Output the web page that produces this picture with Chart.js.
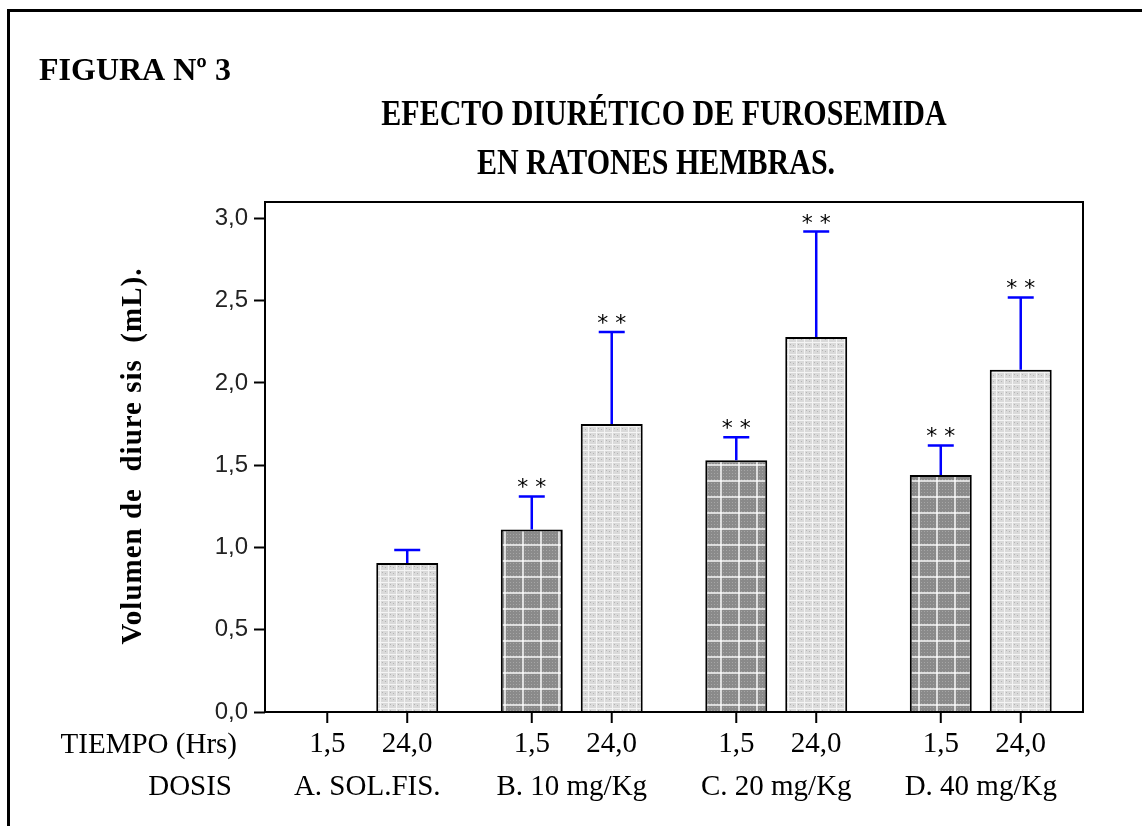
<!DOCTYPE html>
<html>
<head>
<meta charset="utf-8">
<script src="https://cdn.jsdelivr.net/npm/chart.js@4"></script>
<style>
  html, body { margin: 0; padding: 0; background: #fff; }
  #wrap { position: relative; width: 1142px; height: 826px; }
</style>
</head>
<body>
<div id="wrap"><canvas id="myChart"></canvas></div>
<script>
// datos
const dosis = ['A. SOL.FIS.', 'B. 10 mg/Kg', 'C. 20 mg/Kg', 'D. 40 mg/Kg']
const tiempos = ['1,5', '24,0']
const media15 = [null, 1.11, 1.53, 1.44]
const media24 = [0.905, 1.75, 2.28, 2.08]
const error15 = [null, 0.20, 0.14, 0.18]
const error24 = [0.08, 0.56, 0.64, 0.44]
const sig15 = ['', '**', '**', '**']
const sig24 = ['', '**', '**', '**']
const yTicks = [0, 0.5, 1.0, 1.5, 2.0, 2.5, 3.0]

const ctx = document.getElementById('myChart')

const serif = '"Liberation Serif", "Times New Roman", serif'
const sans = '"Liberation Sans", Arial, sans-serif'

// tramas de las barras
function trama(oscura) {
  const c = document.createElement('canvas')
  const g = c.getContext('2d')
  if (oscura) {
    c.width = 18; c.height = 16
    g.fillStyle = '#8a8a8a'
    g.fillRect(0, 0, 18, 16)
    g.fillStyle = '#a6a6a6'
    for (let x = 0; x < 18; x += 3) for (let y = 0; y < 16; y += 3) g.fillRect(x, y, 1, 1)
    g.fillStyle = 'rgba(255,255,255,0.7)'
    g.fillRect(0, 0, 2, 16)
    g.fillRect(0, 0, 18, 2)
  } else {
    c.width = 8; c.height = 6
    g.fillStyle = '#dadada'
    g.fillRect(0, 0, 8, 6)
    g.fillStyle = '#f4f4f4'
    g.fillRect(0, 0, 8, 1)
    g.fillRect(4, 0, 1, 6)
    g.fillStyle = '#b4b4b4'
    g.fillRect(1, 3, 1, 1)
    g.fillRect(6, 2, 1, 1)
  }
  return g.createPattern(c, 'repeat')
}

const textos = {
  id: 'textos',
  beforeDraw(chart) {
    const c = chart.ctx
    c.save()
    c.fillStyle = '#fff'
    c.fillRect(0, 0, chart.width, chart.height)
    // marco exterior
    c.strokeStyle = '#000'
    c.lineWidth = 3
    c.beginPath()
    c.moveTo(8.5, chart.height + 5)
    c.lineTo(8.5, 10.5)
    c.lineTo(chart.width + 5, 10.5)
    c.stroke()
    c.fillStyle = '#000'
    c.font = 'bold 32px ' + serif
    c.textAlign = 'left'
    c.textBaseline = 'alphabetic'
    c.fillText('FIGURA Nº 3', 39, 80)
    // titulo (letra alta y estrecha)
    c.save()
    c.scale(1, 1.2)
    c.font = 'bold 30px ' + serif
    c.textAlign = 'center'
    c.fillText('EFECTO DIURÉTICO DE FUROSEMIDA', 664, 125 / 1.2)
    c.fillText('EN RATONES HEMBRAS.', 656, 174 / 1.2)
    c.restore()
    // titulo eje y
    c.save()
    c.translate(141, 456)
    c.rotate(-Math.PI / 2)
    c.font = 'bold 29px ' + serif
    c.textAlign = 'center'
    c.letterSpacing = '1px'
    c.fillText('Volumen de  diure sis  (mL).', 0, 0)
    c.restore()
    c.restore()
  },
  afterDatasetsDraw(chart) {
    const c = chart.ctx
    const area = chart.chartArea
    const y = chart.scales.y
    const x = chart.scales.x
    const errores = [error15, error24]
    const sigs = [sig15, sig24]
    c.save()
    // barras de error
    chart.data.datasets.forEach((ds, di) => {
      const meta = chart.getDatasetMeta(di)
      meta.data.forEach((el, i) => {
        const v = ds.data[i]
        if (v == null) return
        const yTop = y.getPixelForValue(v + errores[di][i])
        c.strokeStyle = '#0000ff'
        c.lineWidth = 2.5
        c.beginPath()
        c.moveTo(el.x, el.y)
        c.lineTo(el.x, yTop)
        c.moveTo(el.x - 13, yTop)
        c.lineTo(el.x + 13, yTop)
        c.stroke()
        if (sigs[di][i]) {
          c.fillStyle = '#000'
          c.font = '22px "DejaVu Sans", sans-serif'
          c.textAlign = 'center'
          c.textBaseline = 'alphabetic'
          c.fillText(sigs[di][i].split('').join(' '), el.x, yTop - 2)
        }
      })
    })
    // marco del grafico
    c.strokeStyle = '#000'
    c.lineWidth = 2
    c.strokeRect(area.left, area.top, area.right - area.left, area.bottom - area.top)
    // marcas y etiquetas del eje x
    c.fillStyle = '#000'
    c.font = '29px ' + serif
    c.textAlign = 'center'
    c.textBaseline = 'alphabetic'
    chart.data.datasets.forEach((ds, di) => {
      chart.getDatasetMeta(di).data.forEach((el) => {
        c.beginPath()
        c.moveTo(el.x, area.bottom)
        c.lineTo(el.x, area.bottom + 11)
        c.stroke()
        c.fillText(ds.label, el.x, 752)
      })
    })
    dosis.forEach((d, i) => {
      c.fillText(d, x.getPixelForTick(i), 795)
    })
    c.textAlign = 'right'
    c.fillText('TIEMPO (Hrs)', 237, 753)
    c.fillText('DOSIS', 232, 795)
    c.restore()
  }
}

new Chart(ctx, {
  type: 'bar',
  data: {
    labels: dosis,
    datasets: [
      {
        label: tiempos[0],
        data: media15,
        backgroundColor: trama(true),
        borderColor: '#000',
        borderWidth: 2,
        categoryPercentage: 0.782,
        barPercentage: 0.775
      },
      {
        label: tiempos[1],
        data: media24,
        backgroundColor: trama(false),
        borderColor: '#000',
        borderWidth: 2,
        categoryPercentage: 0.782,
        barPercentage: 0.775
      }
    ]
  },
  options: {
    responsive: true,
    maintainAspectRatio: false,
    animation: false,
    layout: { padding: { top: 202, right: 59, left: 0, bottom: 0 } },
    plugins: {
      legend: { display: false },
      title: { display: false },
      tooltip: { enabled: false }
    },
    scales: {
      x: {
        grid: { display: false },
        border: { display: false },
        ticks: { display: false },
        afterFit: (s) => { s.height = 114 }
      },
      y: {
        min: 0,
        max: 3.1,
        afterBuildTicks: (s) => { s.ticks = yTicks.map(v => ({ value: v })) },
        afterFit: (s) => { s.width = 265 },
        grid: {
          drawOnChartArea: false,
          drawTicks: true,
          tickLength: 11,
          tickWidth: 2,
          tickColor: '#000'
        },
        border: { display: false },
        ticks: {
          padding: 6,
          color: '#222',
          font: { family: sans, size: 24 },
          callback: (v) => Number(v).toFixed(1).replace('.', ',')
        }
      }
    }
  },
  plugins: [textos]
})
</script>
</body>
</html>
